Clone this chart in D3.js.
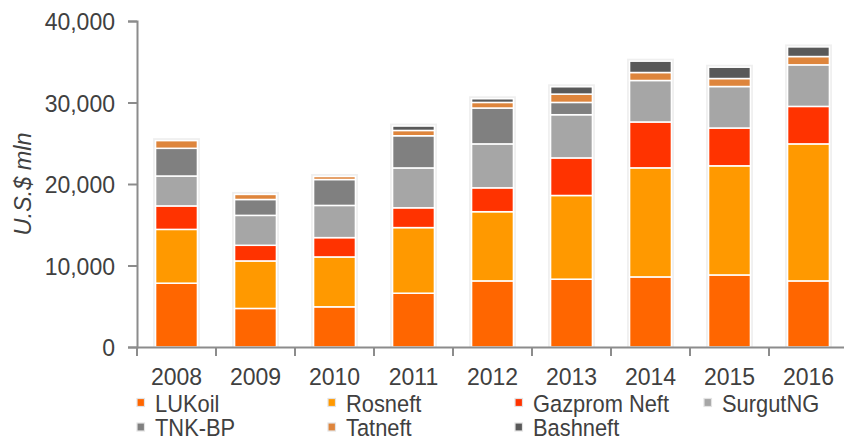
<!DOCTYPE html>
<html><head><meta charset="utf-8">
<script src="https://cdn.jsdelivr.net/npm/d3@7"></script>
<style>
body{margin:0;background:#fff;}
text{font-family:"Liberation Sans",Arial,sans-serif;fill:#404040;}
</style></head>
<body><svg id="c" width="844" height="441"></svg>
<script>
const years = ["2008","2009","2010","2011","2012","2013","2014","2015","2016"];
const seriesNames = ["LUKoil","Rosneft","Gazprom Neft","SurgutNG","TNK-BP","Tatneft","Bashneft"];
const lukoil   = [7830, 4730, 4930, 6600, 8110, 8320, 8600, 8840, 8110];
const rosneft  = [6600, 5830, 6120, 8050, 8490, 10270, 13380, 13390, 16810];
const gazprom  = [2880, 1920, 2370, 2430, 2930, 4610, 5630, 4640, 4600];
const surgut   = [3670, 3670, 3950, 4890, 5390, 5300, 5090, 5090, 5100];
const tnkbp    = [3400, 1950, 3180, 3950, 4400, 1510, 0, 0, 0];
const tatneft  = [940, 620, 370, 650, 690, 1020, 980, 980, 1020];
const bashneft = [0, 0, 0, 540, 450, 900, 1390, 1390, 1180];
const yTicks = [0, 10000, 20000, 30000, 40000];
const colors = ["#ff6600","#ff9900","#ff3300","#a6a6a6","#808080","#de853c","#595959"];

const valuesList = [lukoil, rosneft, gazprom, surgut, tnkbp, tatneft, bashneft];
const rows = years.map((y,i)=>{const o={year:y}; seriesNames.forEach((s,k)=>o[s]=valuesList[k][i]); return o;});

const svg = d3.select("#c");
const x = d3.scaleBand().domain(years).range([137, 848]).paddingInner(0.47).paddingOuter(0.235);
const xb = d3.scaleBand().domain(years).range([137, 848]);
const y = d3.scaleLinear().domain([0, 40000]).range([347, 21]);

const stack = d3.stack().keys(seriesNames)(rows);

// bar glow backgrounds
svg.append("g").selectAll("rect").data(rows).join("rect")
  .attr("x", d=>x(d.year)-2.5)
  .attr("width", x.bandwidth()+5)
  .attr("y", d=>y(d3.sum(seriesNames, s=>d[s]))-2.5)
  .attr("height", d=>y(0)-y(d3.sum(seriesNames, s=>d[s]))+2.5)
  .attr("fill","#efefef");

svg.append("g").selectAll("g").data(stack).join("g")
  .attr("fill",(d,i)=>colors[i])
  .selectAll("rect").data(d=>d.filter(v=>v[1]-v[0]>0)).join("rect")
  .attr("x", d=>x(d.data.year))
  .attr("width", x.bandwidth())
  .attr("y", d=>y(d[1]))
  .attr("height", d=>y(d[0])-y(d[1]))
  .attr("stroke","#fff").attr("stroke-width",1.5);

// axes
const axisColor = "#8c8c8c";
const yAxis = svg.append("g").attr("transform","translate(137,0)")
  .call(d3.axisLeft(y).tickValues(yTicks).tickFormat(d3.format(",")).tickSize(9).tickPadding(13));
yAxis.select(".domain").attr("stroke",axisColor).attr("stroke-width",2);
yAxis.selectAll(".tick line").attr("stroke",axisColor).attr("stroke-width",2);
yAxis.selectAll("text").style("font-size","23px").attr("fill","#404040").attr("dy","0.38em");

const xAxis = svg.append("g").attr("transform","translate(0,347)")
  .call(d3.axisBottom(xb).tickSize(0).tickPadding(22).tickSizeOuter(0));
xAxis.select(".domain").attr("stroke",axisColor).attr("stroke-width",2);
xAxis.selectAll("text").style("font-size","23px").attr("fill","#404040");
// band boundary ticks
svg.append("g").selectAll("line").data(years).join("line")
  .attr("x1", d=>xb(d)).attr("x2", d=>xb(d))
  .attr("y1",347).attr("y2",356)
  .attr("stroke",axisColor).attr("stroke-width",2);

// y title
svg.append("text").attr("transform","translate(31,184) rotate(-90)")
  .attr("text-anchor","middle").style("font-size","23.5px").style("font-style","italic")
  .text("U.S.$ mln");

// legend
const legSq = [[137,411.5],[328,411.5],[515,411.5],[704,411.5],[137,436],[328,436],[515,436]];
const leg = svg.append("g").selectAll("g").data(seriesNames).join("g")
  .attr("transform",(d,i)=>`translate(${legSq[i][0]},${legSq[i][1]})`);
leg.append("rect").attr("x",0).attr("y",-13).attr("width",7.5).attr("height",8)
  .attr("fill",(d,i)=>colors[i]).attr("stroke","#e3e3e3").attr("stroke-width",1.2);
leg.append("text").attr("transform","translate(18,0) scale(0.93,1)")
  .style("font-size","23.5px").text(d=>d);
</script></body></html>
